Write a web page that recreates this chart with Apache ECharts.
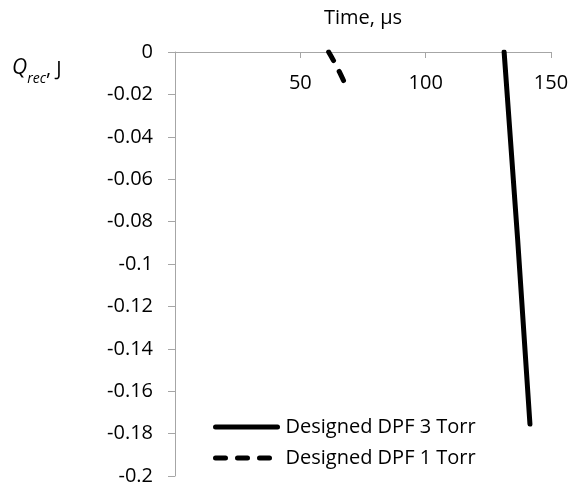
<!DOCTYPE html>
<html><head><meta charset="utf-8">
<script src="https://cdn.jsdelivr.net/npm/echarts@6/dist/echarts.min.js"></script>
<style>html,body{margin:0;padding:0;background:#fff}#c{width:574px;height:486px}</style>
</head><body><div id="c"></div>
<script>
const seriesNames = ['Designed DPF 3 Torr', 'Designed DPF 1 Torr'];
const torr3 = [[131.3, 0], [136.7, -0.0885], [141.6, -0.1755]];
const torr1 = [[61.3, 0], [64.8, -0.0075], [68.0, -0.0155]];
const xTicks = [0, 50, 100, 150];
const yTicks = [0, -0.02, -0.04, -0.06, -0.08, -0.1, -0.12, -0.14, -0.16, -0.18, -0.2];

const font = 'Open Sans';
const axisColor = '#a6a6a6';
const chart = echarts.init(document.getElementById('c'), null, {renderer: 'canvas'});
chart.setOption({
  animation: false,
  backgroundColor: '#fff',
  textStyle: {fontFamily: font},
  grid: {left: 175, top: 52, width: 376, height: 425, containLabel: false},
  xAxis: {
    type: 'value', position: 'top',
    min: xTicks[0], max: xTicks[xTicks.length - 1], interval: 50,
    name: 'Time, μs', nameLocation: 'middle', nameGap: 24,
    nameTextStyle: {fontFamily: font, fontSize: 20, color: '#000'},
    axisLine: {show: true, onZero: false, lineStyle: {color: axisColor, width: 1}},
    axisTick: {show: true, inside: true, length: 6, lineStyle: {color: axisColor}},
    axisLabel: {inside: true, margin: 21, showMinLabel: false, fontFamily: font, fontSize: 20, color: '#000'},
    splitLine: {show: false}
  },
  yAxis: {
    type: 'value',
    min: yTicks[yTicks.length - 1], max: yTicks[0], interval: 0.02,
    axisLine: {show: true, onZero: false, lineStyle: {color: axisColor, width: 1}},
    axisTick: {show: true, length: 7, lineStyle: {color: axisColor}},
    axisLabel: {margin: 22, fontFamily: font, fontSize: 20, color: '#000',
      formatter: v => String(parseFloat(v.toFixed(2)))},
    splitLine: {show: false}
  },
  legend: {
    orient: 'vertical', left: 208, top: 412,
    itemWidth: 62, itemHeight: 14, itemGap: 11,
    itemStyle: {opacity: 0},
    lineStyle: {width: 5, cap: 'round'},
    textStyle: {fontFamily: font, fontSize: 20, color: '#000', padding: [0, 0, 0, 3]},
    data: seriesNames
  },
  graphic: [{
    type: 'text', left: 12, top: 58,
    style: {
      text: '{q|Q}{s|rec}{n|, J}',
      rich: {
        q: {fontFamily: font, fontStyle: 'italic', fontSize: 21, fill: '#000', verticalAlign: 'bottom'},
        s: {fontFamily: font, fontStyle: 'italic', fontSize: 14, fill: '#000', verticalAlign: 'bottom', padding: [0, 0, -7, 0]},
        n: {fontFamily: font, fontSize: 20, fill: '#000', verticalAlign: 'bottom'}
      }
    }
  }],
  series: [
    {name: seriesNames[0], type: 'line', data: torr3, symbol: 'none', smooth: false,
      lineStyle: {color: '#000', width: 5, cap: 'round'}, itemStyle: {color: '#000'}},
    {name: seriesNames[1], type: 'line', data: torr1, symbol: 'none', smooth: true,
      lineStyle: {color: '#000', width: 5, type: [10, 12], cap: 'round'}, itemStyle: {color: '#000'}}
  ]
});
</script></body></html>
